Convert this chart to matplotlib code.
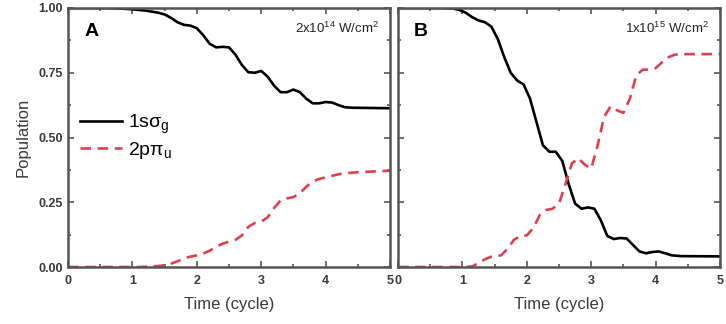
import matplotlib.pyplot as plt
from matplotlib.ticker import MultipleLocator

# Panel A: 2x10^14 W/cm^2
t_a_g = [0, 0.6, 0.8, 1.0, 1.2, 1.4, 1.5, 1.6, 1.7, 1.8, 1.9, 2.0, 2.1, 2.2, 2.3, 2.4, 2.5,
         2.6, 2.7, 2.8, 2.9, 3.0, 3.1, 3.2, 3.3, 3.4, 3.5, 3.6, 3.7, 3.8, 3.9, 4.0, 4.1,
         4.2, 4.3, 4.4, 5.0]
p_a_g = [1.0, 1.0, 0.998, 0.995, 0.99, 0.982, 0.975, 0.962, 0.945, 0.935, 0.932, 0.922,
         0.895, 0.862, 0.848, 0.85, 0.848, 0.82, 0.78, 0.752, 0.75, 0.757, 0.735, 0.70,
         0.675, 0.675, 0.685, 0.675, 0.65, 0.632, 0.632, 0.637, 0.635, 0.625, 0.617,
         0.615, 0.613]
t_a_u = [0, 1.1, 1.3, 1.45, 1.6, 1.7, 1.8, 1.9, 2.0, 2.1, 2.2, 2.3, 2.4, 2.5, 2.6, 2.7,
         2.8, 2.9, 3.0, 3.1, 3.2, 3.3, 3.4, 3.5, 3.6, 3.7, 3.8, 3.9, 4.0, 4.1, 4.2, 4.3,
         4.5, 5.0]
p_a_u = [0.0, 0.0, 0.002, 0.005, 0.013, 0.022, 0.033, 0.04, 0.045, 0.052, 0.063, 0.078,
         0.09, 0.098, 0.105, 0.122, 0.155, 0.17, 0.175, 0.192, 0.228, 0.257, 0.265, 0.27,
         0.285, 0.31, 0.33, 0.34, 0.346, 0.352, 0.358, 0.362, 0.366, 0.372]

# Panel B: 1x10^15 W/cm^2
t_b_g = [0, 0.7, 0.85, 0.95, 1.05, 1.15, 1.25, 1.35, 1.45, 1.55, 1.65, 1.75, 1.85, 1.95,
         2.05, 2.15, 2.25, 2.35, 2.45, 2.55, 2.65, 2.75, 2.85, 2.95, 3.05, 3.15, 3.25,
         3.35, 3.45, 3.55, 3.65, 3.75, 3.85, 3.95, 4.05, 4.15, 4.25, 4.4, 5.0]
p_b_g = [1.0, 1.0, 0.998, 0.993, 0.982, 0.965, 0.952, 0.945, 0.928, 0.88, 0.81, 0.75,
         0.72, 0.705, 0.65, 0.56, 0.47, 0.445, 0.445, 0.41, 0.32, 0.245, 0.225, 0.23,
         0.225, 0.18, 0.12, 0.108, 0.112, 0.11, 0.085, 0.06, 0.053, 0.058, 0.06, 0.053,
         0.045, 0.042, 0.041]
t_b_u = [0, 1.0, 1.15, 1.25, 1.35, 1.45, 1.6, 1.7, 1.8, 1.9, 2.0, 2.1, 2.2, 2.3, 2.4,
         2.5, 2.6, 2.7, 2.8, 2.9, 3.0, 3.1, 3.2, 3.3, 3.4, 3.5, 3.6, 3.7, 3.8, 3.9, 4.0,
         4.1, 4.2, 4.3, 4.5, 5.0]
p_b_u = [0.0, 0.0, 0.002, 0.015, 0.03, 0.04, 0.045, 0.07, 0.105, 0.12, 0.122, 0.15, 0.2,
         0.22, 0.225, 0.245, 0.32, 0.40, 0.42, 0.395, 0.38, 0.47, 0.58, 0.62, 0.605,
         0.595, 0.65, 0.74, 0.762, 0.762, 0.768, 0.79, 0.81, 0.82, 0.822, 0.822]

panels = [("A", r"2x10$^{14}$ W/cm$^2$", t_a_g, p_a_g, t_a_u, p_a_u),
          ("B", r"1x10$^{15}$ W/cm$^2$", t_b_g, p_b_g, t_b_u, p_b_u)]

RED = "#e0404e"
FRAME = "#555555"
TXT = "#3a3a3a"

plt.rcParams["font.family"] = ["Liberation Sans", "DejaVu Sans"]
plt.rcParams["mathtext.fontset"] = "custom"
plt.rcParams["mathtext.rm"] = "Liberation Sans"

fig = plt.figure(figsize=(7.26, 3.24), dpi=100)
lefts = [68 / 726, 398 / 726]
width = 322 / 726
bottom = 1 - 267 / 324
height = 259 / 324

for i, (letter, inten, tg, pg, tu, pu) in enumerate(panels):
    ax = fig.add_axes([lefts[i], bottom, width, height])
    lg, = ax.plot(tg, pg, color="black", lw=1.9, label="1sσ$_{\\rm g}$")
    lu, = ax.plot(tu, pu, color=RED, lw=1.9, ls=(0, (4, 2.5)), label="2pπ$_{\\rm u}$")
    ax.set_xlim(0, 5)
    ax.set_ylim(0, 1)
    ax.xaxis.set_major_locator(MultipleLocator(1))
    ax.xaxis.set_minor_locator(MultipleLocator(0.5))
    ax.yaxis.set_major_locator(MultipleLocator(0.25))
    ax.yaxis.set_minor_locator(MultipleLocator(0.125))
    ax.tick_params(which="both", direction="in", top=True, right=True,
                   color=FRAME, width=1.2, labelsize=9, labelcolor=TXT)
    ax.tick_params(which="major", length=4)
    ax.tick_params(which="minor", length=2.5)
    ax.tick_params(axis="x", pad=6)
    for lab in ax.get_xticklabels() + ax.get_yticklabels():
        lab.set_fontweight("bold")
    for s in ax.spines.values():
        s.set_color(FRAME)
        s.set_linewidth(1.8)
    ax.set_xlabel("Time (cycle)", fontsize=12, color=TXT, labelpad=7)
    ax.text(0.05, 0.91, letter, transform=ax.transAxes, fontsize=14,
            fontweight="bold", va="center", ha="left")
    ax.text(0.965, 0.92, inten, transform=ax.transAxes, fontsize=9.5,
            va="center", ha="right", color="#222222")
    if i == 0:
        ax.yaxis.set_major_formatter(lambda v, p: f"{v:.2f}")
        for lab in ax.get_yticklabels():
            lab.set_fontweight("bold")
        ax.set_ylabel("Population", fontsize=12, color=TXT, labelpad=6)
        ax.legend(handles=[lg, lu], loc="upper left", bbox_to_anchor=(0.0, 0.64),
                  frameon=False, fontsize=14, handlelength=2.2, handletextpad=0.3,
                  labelspacing=0.2, borderaxespad=0.2)
    else:
        ax.set_yticklabels([])

fig.savefig("out.png", dpi=100)
